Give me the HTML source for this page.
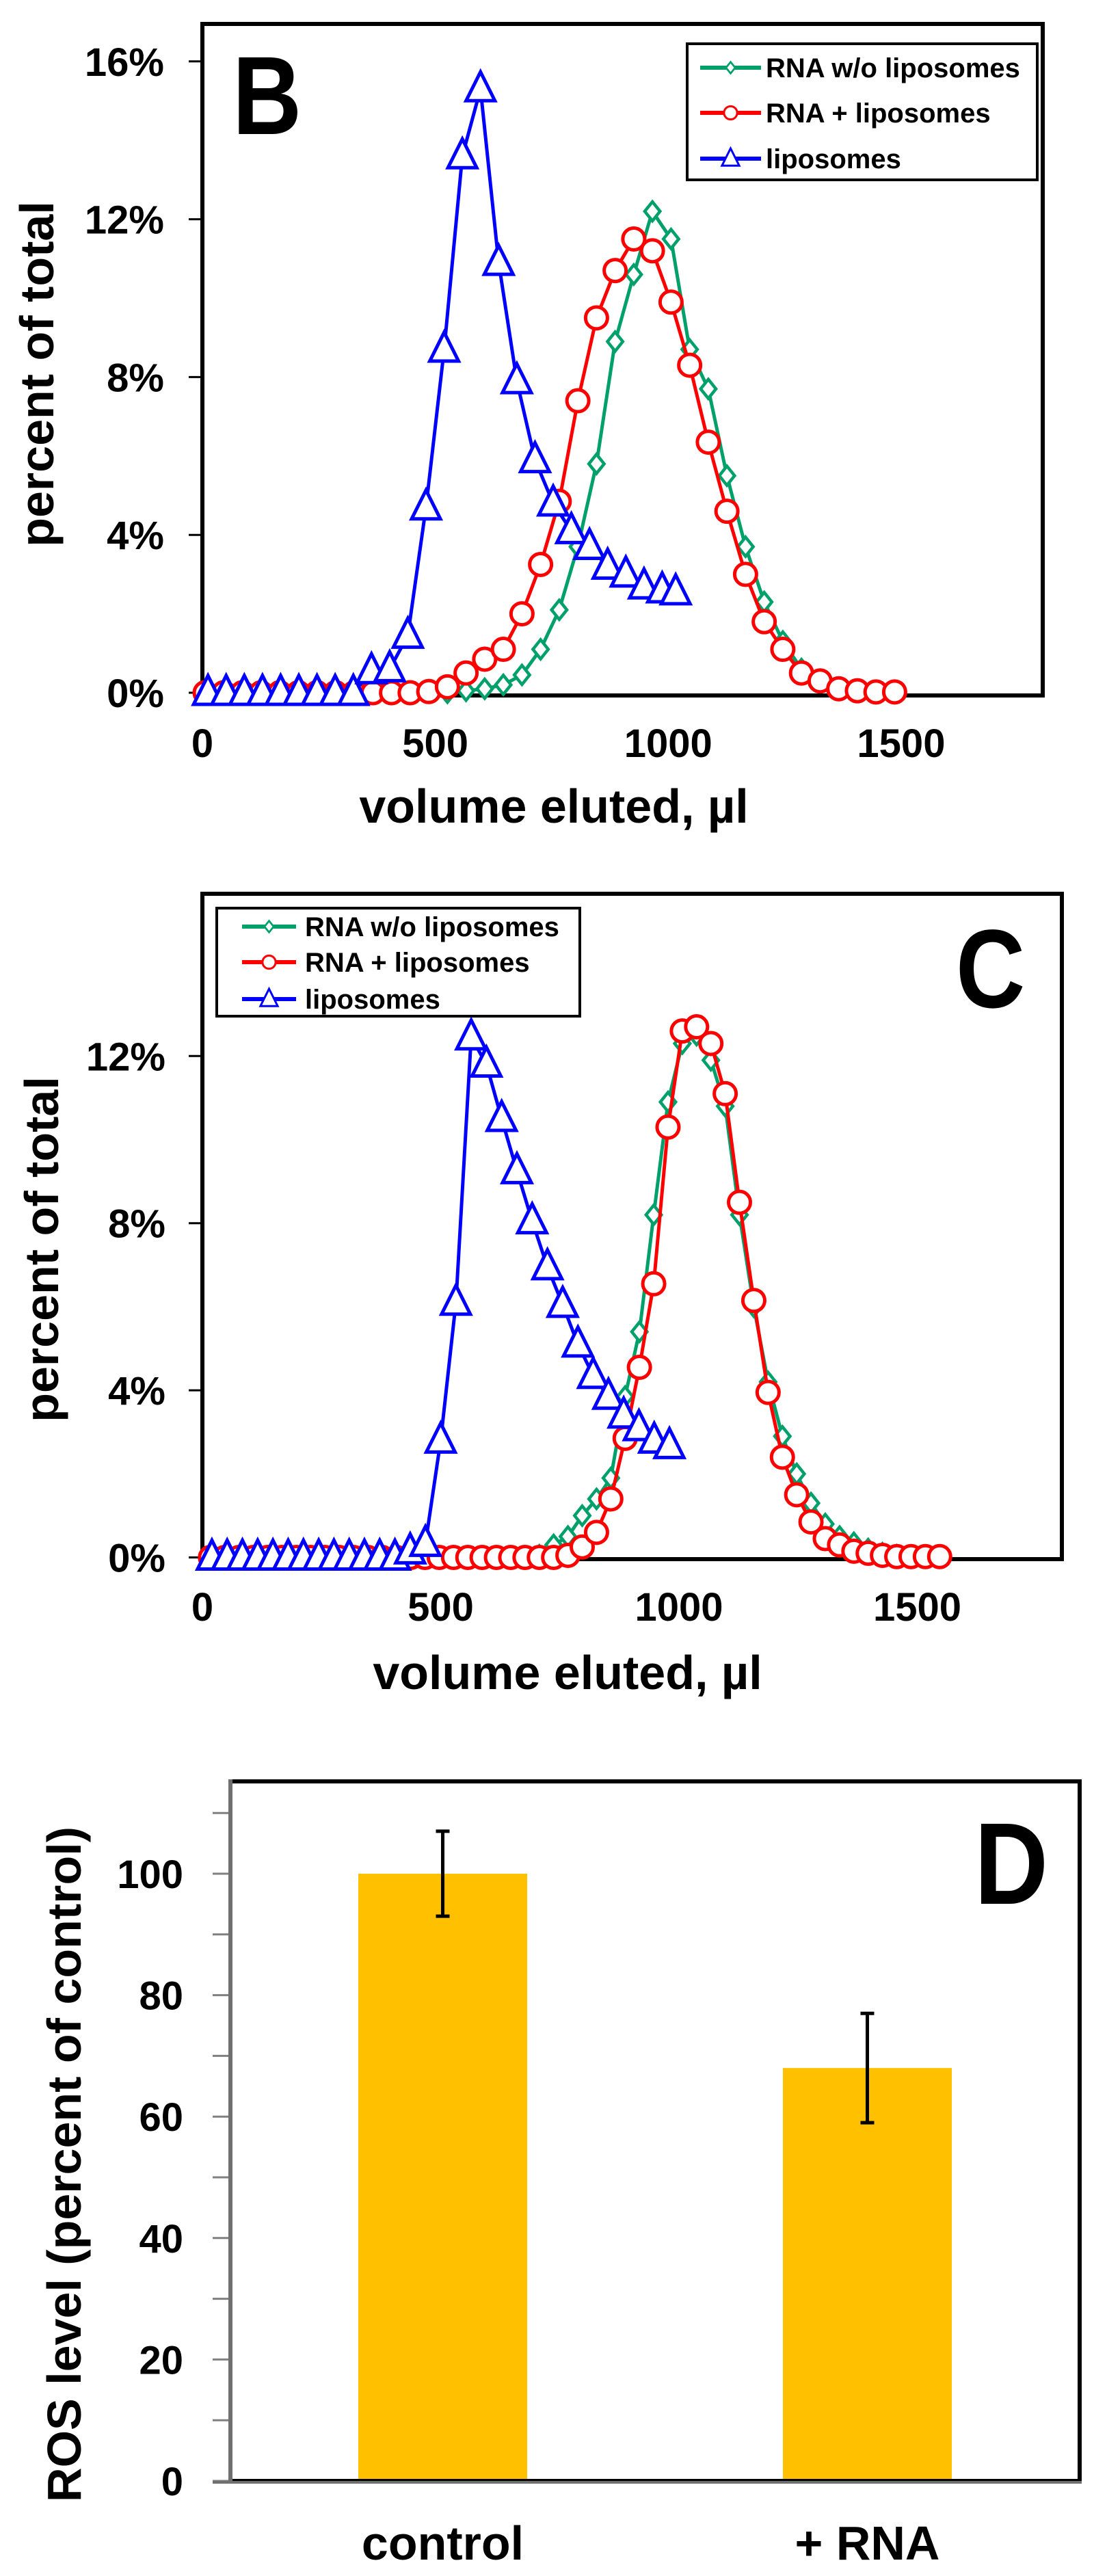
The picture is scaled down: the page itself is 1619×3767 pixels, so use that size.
<!DOCTYPE html>
<html><head><meta charset="utf-8"><style>
html,body{margin:0;padding:0;background:#fff;}
svg{display:block;}
text{font-family:"Liberation Sans",Arial,sans-serif;font-weight:bold;fill:#000;}
</style></head><body>
<svg id="fig" xmlns="http://www.w3.org/2000/svg" width="1619" height="3767" viewBox="0 0 1619 3767">
<rect x="0" y="0" width="1619" height="3767" fill="#fff"/>
<g id="panelB">
  <rect x="296" y="35" width="1229" height="982" fill="none" stroke="#000" stroke-width="6"/>
  <text x="340" y="196" font-size="163" transform="translate(340 0) scale(0.86 1) translate(-340 0)">B</text>
  <text transform="translate(78 547) rotate(-90)" text-anchor="middle" font-size="70">percent of total</text>
  <text x="810" y="1203" text-anchor="middle" font-size="70">volume eluted, µl</text>
  <g id="legB">
    <rect x="1005" y="64" width="512" height="199" fill="#fff" stroke="#000" stroke-width="4"/>
  </g>
</g>
<g id="panelC">
  <rect x="296" y="1307" width="1257" height="973" fill="none" stroke="#000" stroke-width="6"/>
  <text x="1398" y="1473" font-size="163" transform="translate(1398 0) scale(0.86 1) translate(-1398 0)">C</text>
  <text transform="translate(85 1827) rotate(-90)" text-anchor="middle" font-size="70">percent of total</text>
  <text x="830" y="2470" text-anchor="middle" font-size="70">volume eluted, µl</text>
  <g id="legC">
    <rect x="317" y="1328" width="531" height="158" fill="#fff" stroke="#000" stroke-width="4"/>
  </g>
</g>
<g id="panelD">
  <text transform="translate(118 3165) rotate(-90)" text-anchor="middle" font-size="70">ROS level (percent of control)</text>
</g>
</svg>
<script>
// ---------- Panel B data ----------
const bBlueX = [12,51,90,129,168,207,246,285,324,363,402,441,480,519,558,597,636,675,714,753,792,831,870,909,948,987,1016];
const bBlueY = [0,0,0,0,0,0,0,0,0,0.55,0.6,1.45,4.7,8.7,13.6,15.3,10.9,7.9,5.9,4.8,4.1,3.7,3.2,3.0,2.7,2.6,2.55];
const bRedX = [6,46,86,126,166,206,246,286,326,366,406,446,486,526,566,606,646,686,726,766,806,846,886,926,966,1006,1046,1086,1126,1166,1206,1246,1286,1326,1366,1406,1446,1486];
const bRedY = [0,0,0,0,0,0,0,0,0,0,0,0,0.03,0.15,0.5,0.85,1.1,2.0,3.25,4.85,7.4,9.5,10.7,11.5,11.2,9.9,8.3,6.35,4.6,3.0,1.8,1.1,0.5,0.3,0.1,0.05,0.02,0.02];
const bGreenX = [526,566,606,646,686,726,766,806,846,886,926,966,1006,1046,1086,1126,1166,1206,1246,1286,1326,1366,1406,1446];
const bGreenY = [0,0.05,0.1,0.2,0.45,1.1,2.1,3.7,5.8,8.9,10.6,12.2,11.5,8.7,7.7,5.5,3.7,2.3,1.3,0.6,0.3,0.1,0.05,0];
const bYTicks = [0,4,8,12,16];
const bYTickLabels = ["0%","4%","8%","12%","16%"];
const xTicks = [0,500,1000,1500];
const xTickLabels = ["0","500","1000","1500"];
// ---------- Panel C data ----------
const cBlueX = [20,52,84,116,148,180,212,244,276,308,340,372,404,436,468,500,532,564,596,628,660,692,724,756,788,820,852,884,916,948,980];
const cBlueY = [0,0,0,0,0,0,0,0,0,0,0,0,0,0.15,0.33,2.8,6.1,12.45,11.8,10.5,9.25,8.05,6.95,6.05,5.1,4.35,3.85,3.4,3.1,2.8,2.67];
const cRedX = [17,47,77,107,137,167,197,227,257,287,317,347,377,407,437,467,497,527,557,587,617,647,677,707,737,767,797,827,857,887,917,947,977,1007,1037,1067,1097,1127,1157,1187,1217,1247,1277,1307,1337,1367,1397,1427,1457,1487,1517,1547];
const cRedY = [0,0,0,0,0,0,0,0,0,0,0,0,0,0,0,0,0,0,0,0,0,0,0,0,0,0.05,0.25,0.6,1.4,2.85,4.55,6.55,10.3,12.6,12.7,12.3,11.1,8.5,6.15,3.95,2.4,1.5,0.85,0.45,0.3,0.15,0.1,0.05,0.02,0.02,0.02,0.02];
const cGreenX = [677,707,737,767,797,827,857,887,917,947,977,1007,1037,1067,1097,1127,1157,1187,1217,1247,1277,1307,1337,1367,1397,1427,1457,1487];
const cGreenY = [0,0.05,0.3,0.5,1.0,1.4,1.9,3.85,5.4,8.2,10.9,12.3,12.5,11.9,10.8,8.2,6.0,4.2,2.9,2.0,1.3,0.8,0.5,0.35,0.2,0.1,0.05,0];
const cYTicks = [0,4,8,12];
const cYTickLabels = ["0%","4%","8%","12%"];
// ---------- Panel D data ----------
const dCategories = ["control","+ RNA"];
const dValues = [100,68];
const dErrUp = [7,9];
const dErrDown = [7,9];
const dYTicks = [0,20,40,60,80,100];
const dYMinorTicks = [10,30,50,70,90,110];

const NS = "http://www.w3.org/2000/svg";
const svg = document.getElementById('fig');
function mk(tag, attrs, parent){ const e=document.createElementNS(NS,tag); for(const k in attrs) e.setAttribute(k,attrs[k]); (parent||svg).appendChild(e); return e; }

const GREEN="#00A06A", RED="#FF0000", BLUE="#0000FF";

const bx = v => 296 + v*0.6813;
const by = p => 1013 - p*57.7;
const cx = v => 296 + v*0.697;
const cy = p => 2277.5 - p*61.1;
const dy = v => 3628 - v*8.88;
const dBand = 1242/dCategories.length;
const dx = i => 337 + dBand*(i+0.5);

function marker(type, x, y, color, parent){
  let e;
  if(type==='circle'){ e=mk('circle',{cx:x,cy:y,r:16,fill:'#fff',stroke:color,'stroke-width':5},parent); }
  else if(type==='diamond'){ const s=14; e=mk('polygon',{points:`${x},${y-s} ${x+s*0.8},${y} ${x},${y+s} ${x-s*0.8},${y}`,fill:'#fff',stroke:color,'stroke-width':4.5},parent); }
  else { e=mk('polygon',{points:`${x},${y-25} ${x+21},${y+17} ${x-21},${y+17}`,fill:'#fff',stroke:color,'stroke-width':5},parent); }
  return e;
}

function series(xs, ys, fx, fy, color, type, name){
  const g = mk('g',{});
  
  
  const pts = xs.map((v,i)=>fx(v)+','+fy(ys[i])).join(' ');
  const l = mk('polyline',{points:pts,fill:'none',stroke:color,'stroke-width':5,'stroke-linejoin':'round'},g);
  
  
  xs.forEach((v,i)=>{
    const m = marker(type, fx(v), fy(ys[i]), color, g);
    
    
  });
}

function yAxis(ticks, labels, fy, axisX, labelRight, name){
  ticks.forEach((t,i)=>{
    const tk = mk('line',{x1:axisX-20,x2:axisX,y1:fy(t),y2:fy(t),stroke:'#000','stroke-width':3});
    
    
    const tx = mk('text',{x:labelRight,y:fy(t)+21,'text-anchor':'end','font-size':58});
    tx.textContent = labels[i];
    
    
  });
}
function xAxis(fx, yText, name){
  xTicks.forEach((t,i)=>{
    const tx = mk('text',{x:fx(t),y:yText,'text-anchor':'middle','font-size':58});
    tx.textContent = xTickLabels[i];
    
    
  });
}

yAxis(bYTicks, bYTickLabels, by, 296, 240, 'panel-b');
xAxis(bx, 1107, 'panel-b');
series(bGreenX, bGreenY, bx, by, GREEN, 'diamond', 'panel-b-series-rna-without-liposomes');
series(bRedX, bRedY, bx, by, RED, 'circle', 'panel-b-series-rna-plus-liposomes');
series(bBlueX, bBlueY, bx, by, BLUE, 'triangle', 'panel-b-series-liposomes');

yAxis(cYTicks, cYTickLabels, cy, 296, 242, 'panel-c');
xAxis(cx, 2370, 'panel-c');
series(cGreenX, cGreenY, cx, cy, GREEN, 'diamond', 'panel-c-series-rna-without-liposomes');
series(cRedX, cRedY, cx, cy, RED, 'circle', 'panel-c-series-rna-plus-liposomes');
series(cBlueX, cBlueY, cx, cy, BLUE, 'triangle', 'panel-c-series-liposomes');

const legNames = ["RNA w/o liposomes","RNA + liposomes","liposomes"];
const legColors = [GREEN, RED, BLUE];
const legTypes = ['diamond','circle','triangle'];
function legend(gid, x1, x2, tx, ys, name){
  const g = document.getElementById(gid);
  ys.forEach((y,i)=>{
    const ln = mk('line',{x1:x1,x2:x2,y1:y,y2:y,stroke:legColors[i],'stroke-width':6},g);
    
    
    const m = marker(legTypes[i], (x1+x2)/2, y, legColors[i], g);
    m.setAttribute('transform', `translate(${(x1+x2)/2} ${y}) scale(0.6) translate(${-(x1+x2)/2} ${-y})`);
    
    
    const t = mk('text',{x:tx,y:y+14,'font-size':40},g);
    t.textContent = legNames[i];
    
    
  });
}
legend('legB', 1024, 1113, 1120, [99,165,232], 'panel-b-legend');
legend('legC', 354, 433, 446, [1355,1407,1461], 'panel-c-legend');

dYMinorTicks.forEach(t=>{
  const tk = mk('line',{x1:311,x2:337,y1:dy(t),y2:dy(t),stroke:'#808080','stroke-width':3});
  
  
});
dYTicks.forEach(t=>{
  const tk = mk('line',{x1:311,x2:337,y1:dy(t),y2:dy(t),stroke:'#808080','stroke-width':3});
  
  
  const tx = mk('text',{x:268,y:dy(t)+21,'text-anchor':'end','font-size':58});
  tx.textContent = String(t);
  
  
});
const barW = 247;
dValues.forEach((v,i)=>{
  const b = mk('rect',{x:dx(i)-barW/2,y:dy(v),width:barW,height:dy(0)-dy(v),fill:'#FFC000'});
  
  
  const hi = dy(v+dErrUp[i]), lo = dy(v-dErrDown[i]);
  const e = mk('path',{d:`M${dx(i)},${hi}V${lo}M${dx(i)-10},${hi}H${dx(i)+10}M${dx(i)-10},${lo}H${dx(i)+10}`,stroke:'#000','stroke-width':5,fill:'none'});
  
  
  const t = mk('text',{x:dx(i),y:3743,'text-anchor':'middle','font-size':70});
  t.textContent = dCategories[i];
  
  
});
const fr = mk('path',{d:'M337,3628V2605H1579V3628H337',fill:'none',stroke:'#000','stroke-width':6});


const la = mk('line',{x1:337,x2:337,y1:2602,y2:3631,stroke:'#707070','stroke-width':6});


const ba = mk('line',{x1:311,x2:1582,y1:3630,y2:3630,stroke:'#707070','stroke-width':4});


const dl = mk('text',{x:1425,y:2784,'font-size':170,transform:'translate(1425 0) scale(0.88 1) translate(-1425 0)'});
dl.textContent = 'D';


</script>
</body></html>
